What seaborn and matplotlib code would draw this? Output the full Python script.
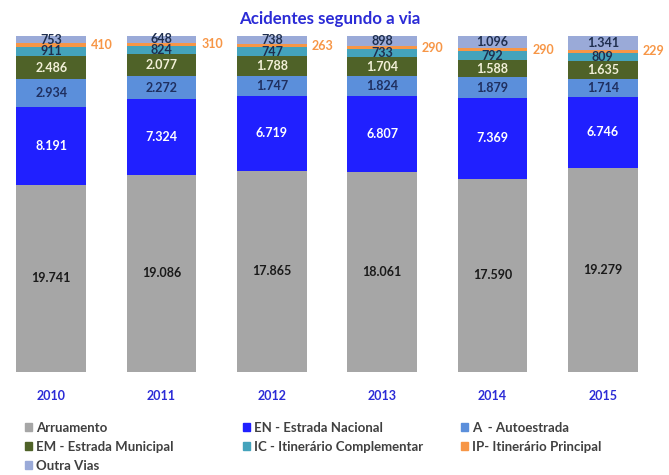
import numpy as np
import pandas as pd
import matplotlib
matplotlib.use("Agg")
import matplotlib.pyplot as plt
import seaborn as sns
from matplotlib.patches import Patch

# Dados (acidentes por tipo de via)
anos = ["2010", "2011", "2012", "2013", "2014", "2015"]
arruamento = [19741, 19086, 17865, 18061, 17590, 19279]
estrada_nacional = [8191, 7324, 6719, 6807, 7369, 6746]
autoestrada = [2934, 2272, 1747, 1824, 1879, 1714]
estrada_municipal = [2486, 2077, 1788, 1704, 1588, 1635]
itinerario_compl = [911, 824, 747, 733, 792, 809]
itinerario_princ = [410, 310, 263, 290, 290, 229]
outra_vias = [753, 648, 738, 898, 1096, 1341]

series = [
    ("Arruamento", arruamento, "#a6a6a6", "#1a1a1a"),
    ("EN - Estrada Nacional", estrada_nacional, "#2020ff", "white"),
    ("A  - Autoestrada", autoestrada, "#5b8fdb", "#1f2f5f"),
    ("EM - Estrada Municipal", estrada_municipal, "#4f6228", "#f2f0d8"),
    ("IC - Itinerário Complementar", itinerario_compl, "#44a3bc", "#1f2f4f"),
    ("IP- Itinerário Principal", itinerario_princ, "#f79646", "#f79646"),
    ("Outra Vias", outra_vias, "#9aaad8", "#1f2f4f"),
]

df = pd.DataFrame({nome: vals for nome, vals, _, _ in series}, index=anos)
totais = df.sum(axis=1)
frac = df.div(totais, axis=0)

plt.rcParams["font.family"] = ["Lato", "DejaVu Sans"]

fig = plt.figure(figsize=(6.69, 4.75), dpi=100)
ax = fig.add_axes([0, 0.217, 1, 0.707])

def fmt(v):
    return f"{v:,}".replace(",", ".")

base = np.zeros(len(anos))
for nome, vals, cor, cor_txt in series:
    sns.barplot(x=anos, y=frac[nome].values, bottom=base, color=cor,
                width=0.63, ax=ax, saturation=1, edgecolor="none")
    for i, v in enumerate(vals):
        meio = base[i] + frac[nome].values[i] / 2
        if nome.startswith("IP"):
            ax.text(i + 0.36, meio, str(v), color=cor_txt, fontsize=9,
                    fontweight="bold", ha="left", va="center")
        else:
            ax.text(i, meio, fmt(v), color=cor_txt, fontsize=9,
                    fontweight="bold", ha="center", va="center")
    base = base + frac[nome].values

ax.set_xlim(-0.464, 5.6)
ax.set_ylim(0, 1)
ax.set_xlabel("")
ax.set_ylabel("")
ax.set_yticks([])
for s in ax.spines.values():
    s.set_visible(False)
ax.tick_params(axis="x", length=0, pad=13)
for lbl in ax.get_xticklabels():
    lbl.set_color("#2b2bd6")
    lbl.set_fontweight("bold")
    lbl.set_fontsize(9)

fig.text(0.493, 0.96, "Acidentes segundo a via", color="#2b2bd6",
         fontsize=12.2, fontweight="bold", ha="center", va="center")

# legenda em 3 colunas, cada coluna na sua posição
handles = {nome: Patch(color=cor) for nome, _, cor, _ in series}
colunas = [
    (25, ["Arruamento", "EM - Estrada Municipal", "Outra Vias"]),
    (243, ["EN - Estrada Nacional", "IC - Itinerário Complementar"]),
    (461, ["A  - Autoestrada", "IP- Itinerário Principal"]),
]
for xpix, nomes in colunas:
    leg = fig.legend([handles[n] for n in nomes], nomes,
                     loc="upper left", bbox_to_anchor=(xpix / 669, 0.112),
                     frameon=False, fontsize=9.5, handlelength=0.5,
                     handleheight=0.6, handletextpad=0.35,
                     labelspacing=0.53, borderpad=0, borderaxespad=0)
    for t in leg.get_texts():
        t.set_color("#404040")
        t.set_fontweight("bold")

fig.savefig("out.png", dpi=100)
